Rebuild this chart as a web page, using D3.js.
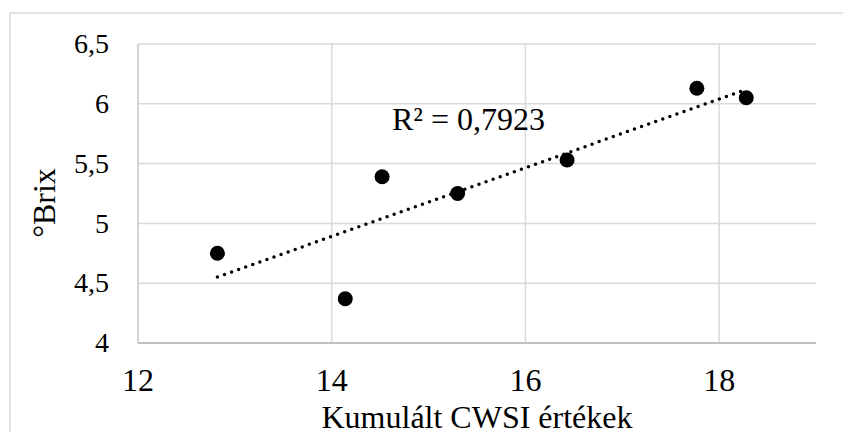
<!DOCTYPE html>
<html>
<head>
<meta charset="utf-8">
<script src="https://cdn.jsdelivr.net/npm/d3@7"></script>
<style>
  body { margin: 0; background: #fff; }
  svg text { font-family: "Liberation Serif", "Times New Roman", Tinos, "DejaVu Serif", serif; }
</style>
</head>
<body>
<svg id="chart" width="843" height="432"></svg>
<script>
// CWSI vs Brix measurements
const cwsi = [12.82, 14.14, 14.52, 15.3, 16.43, 17.77, 18.28];
const brix = [4.75, 4.37, 5.39, 5.25, 5.53, 6.13, 6.05];
const xTicks = [12, 14, 16, 18];
const yTicks = [4, 4.5, 5, 5.5, 6, 6.5];
const r2Label = "R² = 0,7923";

const width = 843;
const height = 432;
const plot = { left: 138, right: 816, top: 44, bottom: 343 };
const serif = "Liberation Serif, Times New Roman, serif";

const svg = d3.select("#chart");

// outer chart border
svg.append("rect")
  .attr("x", 10).attr("y", 13)
  .attr("width", width).attr("height", height)
  .attr("fill", "none")
  .attr("stroke", "#d9d9d9")
  .attr("stroke-width", 1.5);

const x = d3.scaleLinear().domain([12, 19]).range([plot.left, plot.right]);
const y = d3.scaleLinear().domain([4, 6.5]).range([plot.bottom, plot.top]);

const fmt = (d) => String(d).replace(".", ",");

// gridlines
svg.append("g")
  .selectAll("line")
  .data(yTicks.filter((d) => d > 4))
  .join("line")
  .attr("x1", plot.left).attr("x2", plot.right)
  .attr("y1", (d) => y(d)).attr("y2", (d) => y(d))
  .attr("stroke", "#d9d9d9").attr("stroke-width", 1.5);

svg.append("g")
  .selectAll("line")
  .data(xTicks)
  .join("line")
  .attr("x1", (d) => x(d)).attr("x2", (d) => x(d))
  .attr("y1", plot.top).attr("y2", plot.bottom)
  .attr("stroke", (d) => (d === 12 ? "#c8c8c8" : "#d9d9d9"))
  .attr("stroke-width", 1.5);

// x axis line
svg.append("line")
  .attr("x1", plot.left).attr("x2", plot.right)
  .attr("y1", y(4)).attr("y2", y(4))
  .attr("stroke", "#bfbfbf").attr("stroke-width", 2);

// tick labels
svg.append("g")
  .selectAll("text")
  .data(yTicks)
  .join("text")
  .attr("x", 109)
  .attr("y", (d) => y(d))
  .attr("dy", "0.33em")
  .attr("text-anchor", "end")
  .attr("font-family", serif)
  .attr("font-size", 28)
  .text(fmt);

svg.append("g")
  .selectAll("text")
  .data(xTicks)
  .join("text")
  .attr("x", (d) => x(d))
  .attr("y", 391)
  .attr("text-anchor", "middle")
  .attr("font-family", serif)
  .attr("font-size", 32)
  .text(fmt);

// axis titles
svg.append("text")
  .attr("x", (plot.left + plot.right) / 2)
  .attr("y", 428)
  .attr("text-anchor", "middle")
  .attr("font-family", serif)
  .attr("font-size", 32)
  .text("Kumulált CWSI értékek");

svg.append("text")
  .attr("transform", "translate(55,203) rotate(-90)")
  .attr("text-anchor", "middle")
  .attr("font-family", serif)
  .attr("font-size", 32)
  .text("°Brix");

// linear trendline (least squares)
const pts = cwsi.map((v, i) => ({ x: v, y: brix[i] }));
const mx = d3.mean(cwsi), my = d3.mean(brix);
const slope = d3.sum(pts, (p) => (p.x - mx) * (p.y - my)) / d3.sum(pts, (p) => (p.x - mx) ** 2);
const icpt = my - slope * mx;
const [x0, x1] = d3.extent(cwsi);

svg.append("path")
  .datum([x0, x1])
  .attr("d", d3.line().x((d) => x(d)).y((d) => y(icpt + slope * d)))
  .attr("fill", "none")
  .attr("stroke", "#000")
  .attr("stroke-width", 3.5)
  .attr("stroke-linecap", "round")
  .attr("stroke-dasharray", "0 7.5");

// points
svg.append("g")
  .selectAll("circle")
  .data(pts)
  .join("circle")
  .attr("cx", (d) => x(d.x))
  .attr("cy", (d) => y(d.y))
  .attr("r", 7.5)
  .attr("fill", "#000");

svg.append("text")
  .attr("x", 392)
  .attr("y", 130)
  .attr("font-family", serif)
  .attr("font-size", 32)
  .text(r2Label);
</script>
</body>
</html>
